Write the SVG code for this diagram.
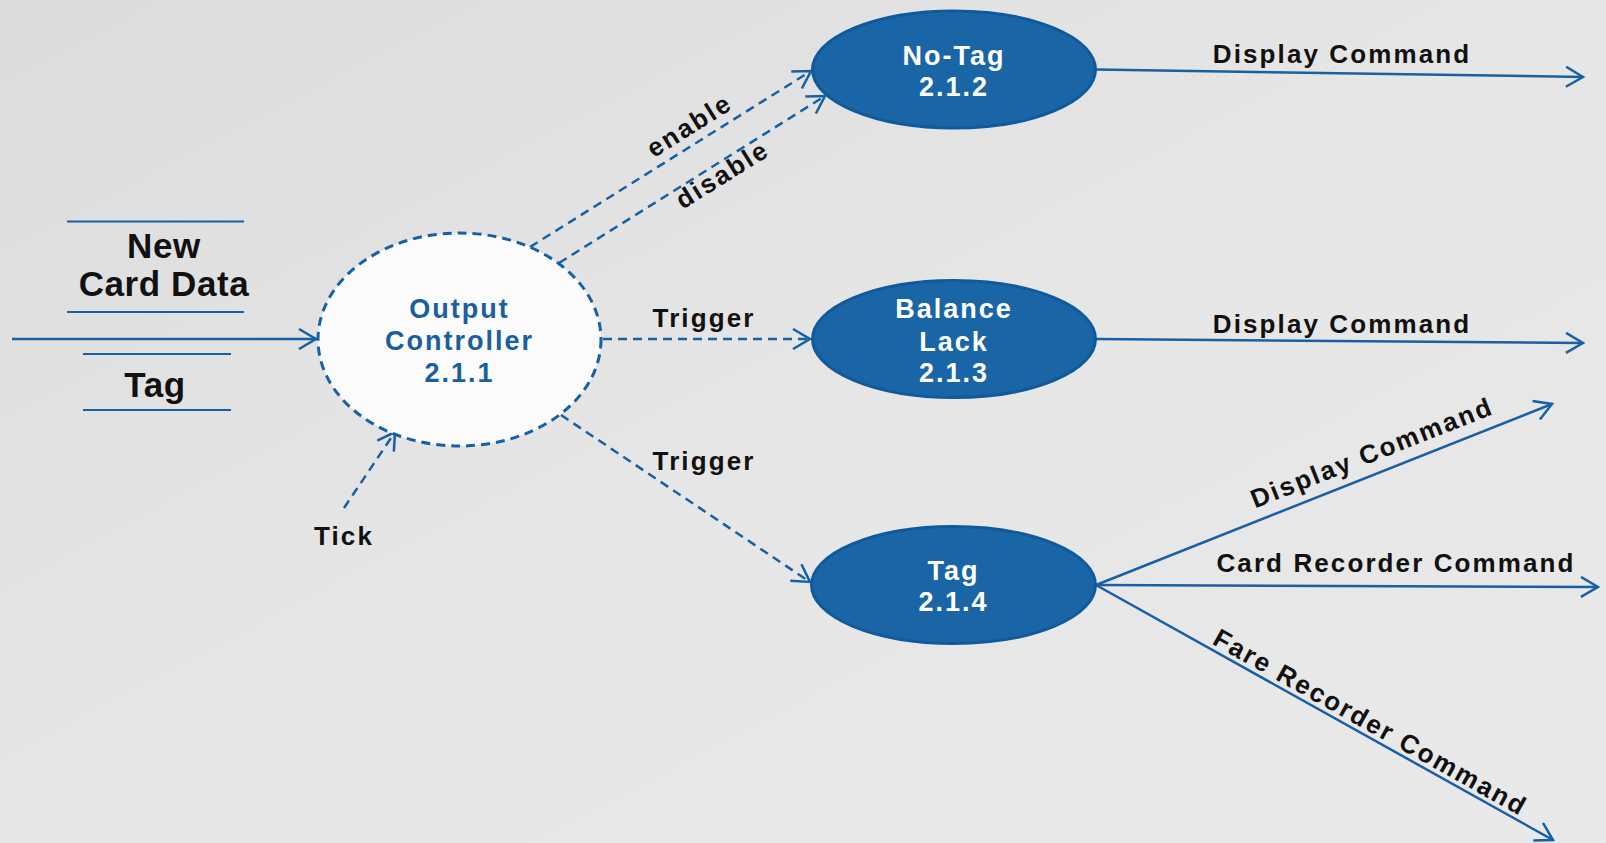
<svg xmlns="http://www.w3.org/2000/svg" width="1606" height="843" viewBox="0 0 1606 843">
<defs>
<linearGradient id="bg" x1="0" y1="0" x2="1" y2="1">
<stop offset="0" stop-color="#dcdcdc"/>
<stop offset="0.5" stop-color="#e6e6e6"/>
<stop offset="1" stop-color="#e9e9e9"/>
</linearGradient>
<marker id="arr" viewBox="0 0 20 22" refX="18" refY="11" markerWidth="20" markerHeight="22" markerUnits="userSpaceOnUse" orient="auto">
<path d="M1,1 L18,11 L1,21" fill="none" stroke="#1660a6" stroke-width="2.5" stroke-dasharray="none"/>
</marker>
<style>
.lbl{font-family:"Liberation Sans",Arial,sans-serif;font-weight:bold;font-size:26px;letter-spacing:2.1px;fill:#111;text-anchor:middle}
.big{font-size:35px;letter-spacing:0.6px}
.node{fill:#1a65a6;stroke:#0f5a9c;stroke-width:3}
.nt{font-family:"Liberation Sans",Arial,sans-serif;font-weight:bold;font-size:27px;letter-spacing:2px;fill:#fff;text-anchor:middle}
.oc{fill:#1a5e9e}
.solid{stroke:#1660a6;stroke-width:2.5;fill:none;marker-end:url(#arr)}
.dash{stroke:#1660a6;stroke-width:2.5;fill:none;stroke-dasharray:9 6;marker-end:url(#arr)}
.store{stroke:#1660a6;stroke-width:1.8}
</style>
</defs>
<rect width="1606" height="843" fill="url(#bg)"/>

<g id="store-new-card-data">
<line class="store" x1="67" y1="221.5" x2="244" y2="221.5"/>
<line class="store" x1="67" y1="312" x2="244" y2="312"/>
<text class="lbl big" x="164" y="258">New</text>
<text class="lbl big" x="164" y="296">Card Data</text>
</g>
<g id="store-tag">
<line class="store" x1="83" y1="354" x2="231" y2="354"/>
<line class="store" x1="83" y1="410" x2="231" y2="410"/>
<text class="lbl big" x="155" y="397">Tag</text>
</g>

<g id="connectors">
<line class="solid" x1="12" y1="339" x2="316" y2="339"/>
<line class="dash" x1="530" y1="247" x2="811" y2="71"/>
<line class="dash" x1="559" y1="263" x2="825" y2="96"/>
<line class="dash" x1="603" y1="339" x2="810" y2="339"/>
<line class="dash" x1="561" y1="415" x2="810" y2="582"/>
<line class="dash" x1="344" y1="508" x2="395" y2="432"/>
<line class="solid" x1="1096" y1="69.5" x2="1583" y2="77"/>
<line class="solid" x1="1096" y1="339" x2="1583" y2="343"/>
<line class="solid" x1="1096" y1="585" x2="1552" y2="404"/>
<line class="solid" x1="1096" y1="585" x2="1598" y2="587"/>
<line class="solid" x1="1096" y1="585" x2="1553" y2="840"/>
<text class="lbl" transform="translate(694,133) rotate(-32)">enable</text>
<text class="lbl" transform="translate(727,182) rotate(-32)">disable</text>
<text class="lbl" x="704" y="327">Trigger</text>
<text class="lbl" x="704" y="470">Trigger</text>
<text class="lbl" x="344" y="545">Tick</text>
<text class="lbl" x="1342" y="63">Display Command</text>
<text class="lbl" x="1342" y="333">Display Command</text>
<text class="lbl" transform="translate(1375,461) rotate(-21.6)">Display Command</text>
<text class="lbl" x="1396" y="572">Card Recorder Command</text>
<text class="lbl" transform="translate(1366,730) rotate(29.2)">Fare Recorder Command</text>
</g>

<g id="node-2-1-1">
<ellipse cx="459.5" cy="339.5" rx="141.5" ry="106.5" fill="#fbfbfb" stroke="#1660a6" stroke-width="3" stroke-dasharray="9 6"/>
<text class="nt oc" x="459.5" y="318" font-size="26" letter-spacing="2.2">Output</text>
<text class="nt oc" x="459.5" y="350" font-size="26" letter-spacing="2.2">Controller</text>
<text class="nt oc" x="459.5" y="382" font-size="26" letter-spacing="2.2">2.1.1</text>
</g>
<g id="node-2-1-2">
<ellipse class="node" cx="954" cy="69.5" rx="141.5" ry="58.5"/>
<text class="nt" x="954" y="65" letter-spacing="3">No-Tag</text>
<text class="nt" x="954" y="96">2.1.2</text>
</g>
<g id="node-2-1-3">
<ellipse class="node" cx="954" cy="339" rx="141.5" ry="58.5"/>
<text class="nt" x="954" y="318">Balance</text>
<text class="nt" x="954" y="351">Lack</text>
<text class="nt" x="954" y="382">2.1.3</text>
</g>
<g id="node-2-1-4">
<ellipse class="node" cx="953.5" cy="585" rx="142" ry="58.5"/>
<text class="nt" x="953.5" y="580">Tag</text>
<text class="nt" x="953.5" y="611">2.1.4</text>
</g>
</svg>
